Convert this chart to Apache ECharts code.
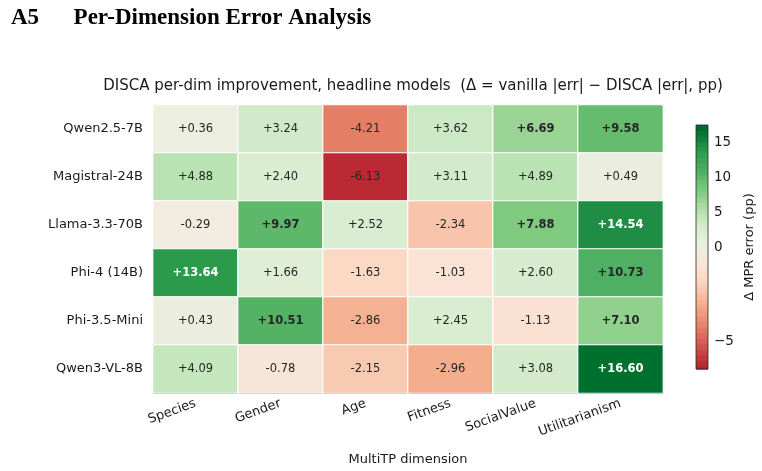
<!DOCTYPE html>
<html>
<head>
<meta charset="utf-8">
<script src="https://cdn.jsdelivr.net/npm/echarts@6/dist/echarts.min.js"></script>
<style>
  body { margin: 0; background: #fff; }
  #chart { width: 762px; height: 471px; }
</style>
</head>
<body>
<div id="chart"></div>
<script>
// MultiTP dimensions (columns) and models (rows, top to bottom)
const dims = ['Species', 'Gender', 'Age', 'Fitness', 'SocialValue', 'Utilitarianism'];
const models = ['Qwen2.5-7B', 'Magistral-24B', 'Llama-3.3-70B', 'Phi-4 (14B)', 'Phi-3.5-Mini', 'Qwen3-VL-8B'];

// delta = vanilla |err| - DISCA |err|, pp
const qwen25 = [0.36, 3.24, -4.21, 3.62, 6.69, 9.58];
const magistral = [4.88, 2.40, -6.13, 3.11, 4.89, 0.49];
const llama = [-0.29, 9.97, 2.52, -2.34, 7.88, 14.54];
const phi4 = [13.64, 1.66, -1.63, -1.03, 2.60, 10.73];
const phi35 = [0.43, 10.51, -2.86, 2.45, -1.13, 7.10];
const qwen3vl = [4.09, -0.78, -2.15, -2.96, 3.08, 16.60];
const rows = [qwen25, magistral, llama, phi4, phi35, qwen3vl];

const cbTicks = [-5, 0, 5, 10, 15];
const vmin = -6.44, vmax = 17.43;

// two-slope norm around 0
function norm(v) {
  return v < 0 ? 0.5 * (v - vmin) / (0 - vmin) : 0.5 + 0.5 * v / vmax;
}
function denorm(t) {
  return t < 0.5 ? vmin + (t / 0.5) * (0 - vmin) : (t - 0.5) / 0.5 * vmax;
}

// red - off white - green colormap
const stops = [
  [0.0, '#b2202e'], [0.024, '#bb2a34'], [0.173, '#e47f66'], [0.27, '#f5ae8d'],
  [0.318, '#f8c4ab'], [0.373, '#fbd9c5'], [0.42, '#fae3d4'], [0.4775, '#f2ebe0'],
  [0.5, '#efece0'], [0.51, '#eceee0'], [0.5476, '#e0eed6'], [0.593, '#d1ebca'],
  [0.64, '#b9e3b3'], [0.692, '#99d494'], [0.726, '#7fca7f'], [0.775, '#66bc6e'],
  [0.808, '#4faf62'], [0.891, '#2b9a4b'], [0.917, '#1f8d44'], [0.976, '#00702f'],
  [1.0, '#00642b']
];
function hex2rgb(h) {
  return [parseInt(h.slice(1, 3), 16), parseInt(h.slice(3, 5), 16), parseInt(h.slice(5, 7), 16)];
}
function cmap(t) {
  t = Math.max(0, Math.min(1, t));
  for (let i = 1; i < stops.length; i++) {
    if (t <= stops[i][0]) {
      const a = stops[i - 1], b = stops[i];
      const f = (t - a[0]) / (b[0] - a[0] || 1);
      const ca = hex2rgb(a[1]), cb = hex2rgb(b[1]);
      const c = ca.map((x, k) => Math.round(x + (cb[k] - x) * f));
      return 'rgb(' + c.join(',') + ')';
    }
  }
  return stops[stops.length - 1][1];
}

const heatData = [];
rows.forEach((r, yi) => {
  r.forEach((v, xi) => {
    const t = norm(v);
    heatData.push({
      value: [xi, yi, v],
      itemStyle: { color: cmap(t) },
      label: {
        color: t > 0.85 ? '#ffffff' : '#262626',
        fontWeight: v >= 5 ? 'bold' : 'normal'
      }
    });
  });
});

// colorbar strips
const cbSteps = [];
const N = 200;
for (let i = 0; i < N; i++) cbSteps.push([i / N, (i + 1) / N]);

const chart = echarts.init(document.getElementById('chart'));
const font = 'DejaVu Sans';
chart.setOption({
  animation: false,
  textStyle: { fontFamily: font },
  title: [{
    text: 'A5      Per-Dimension Error Analysis',
    left: 6, top: 2,
    textStyle: { fontFamily: 'Liberation Serif', fontWeight: 'bold', fontSize: 23, color: '#000' }
  }, {
    text: 'DISCA per-dim improvement, headline models  (\u0394 = vanilla |err| \u2212 DISCA |err|, pp)',
    left: 408, top: 74, textAlign: 'center',
    textStyle: { fontFamily: font, fontWeight: 'normal', fontSize: 15, color: '#1a1a1a' }
  }],
  grid: [
    { left: 153, top: 105, width: 510, height: 288 },
    { left: 696, top: 125, width: 12, height: 244, show: true, z: 10,
      backgroundColor: 'transparent', borderColor: '#262626', borderWidth: 0.8 }
  ],
  xAxis: [{
    type: 'category', data: dims, gridIndex: 0,
    name: 'MultiTP dimension', nameLocation: 'middle', nameGap: 60,
    nameTextStyle: { fontSize: 13, color: '#1a1a1a' },
    axisLine: { lineStyle: { color: '#262626', width: 1 } },
    axisTick: { alignWithLabel: true, length: 4, lineStyle: { color: '#262626' } },
    axisLabel: { rotate: 20, fontSize: 13, color: '#1a1a1a', margin: 10 },
    splitArea: { show: false }
  }, {
    type: 'value', gridIndex: 1, min: 0, max: 1, show: false
  }],
  yAxis: [{
    type: 'category', data: models, gridIndex: 0, inverse: true,
    axisLine: { lineStyle: { color: '#262626', width: 1 } },
    axisTick: { alignWithLabel: true, length: 4, lineStyle: { color: '#262626' } },
    axisLabel: { fontSize: 13, color: '#1a1a1a', margin: 10 }
  }, {
    type: 'value', gridIndex: 1, min: 0, max: 1, position: 'right',
    name: '\u0394 MPR error (pp)', nameLocation: 'middle', nameGap: 35, nameRotate: 90,
    nameTextStyle: { fontSize: 13, color: '#1a1a1a' },
    axisLine: { show: false },
    splitLine: { show: false },
    axisTick: { show: true, inside: false, length: 4, lineStyle: { color: '#262626' },
      customValues: cbTicks.map(norm) },
    axisLabel: { fontSize: 13.5, color: '#1a1a1a', margin: 6,
      customValues: cbTicks.map(norm),
      formatter: function (t) {
        const v = Math.round(denorm(t));
        return v < 0 ? '\u2212' + Math.abs(v) : String(v);
      } }
  }],
  series: [{
    type: 'heatmap',
    xAxisIndex: 0, yAxisIndex: 0,
    data: heatData,
    itemStyle: { borderColor: '#ffffff', borderWidth: 1.2 },
    label: {
      show: true, fontSize: 11.5, fontFamily: font,
      formatter: function (p) {
        const v = p.value[2];
        return (v >= 0 ? '+' : '') + v.toFixed(2);
      }
    },
    emphasis: { disabled: true }
  }, {
    type: 'custom',
    xAxisIndex: 1, yAxisIndex: 1,
    data: cbSteps,
    encode: { y: [0, 1] },
    silent: true,
    renderItem: function (params, api) {
      const t0 = api.value(0), t1 = api.value(1);
      const p0 = api.coord([0, t0]);
      const p1 = api.coord([1, t1]);
      return {
        type: 'rect',
        shape: { x: p0[0], y: p1[1], width: p1[0] - p0[0], height: p0[1] - p1[1] + 0.6 },
        style: { fill: cmap((t0 + t1) / 2) }
      };
    }
  }]
});
</script>
</body>
</html>
